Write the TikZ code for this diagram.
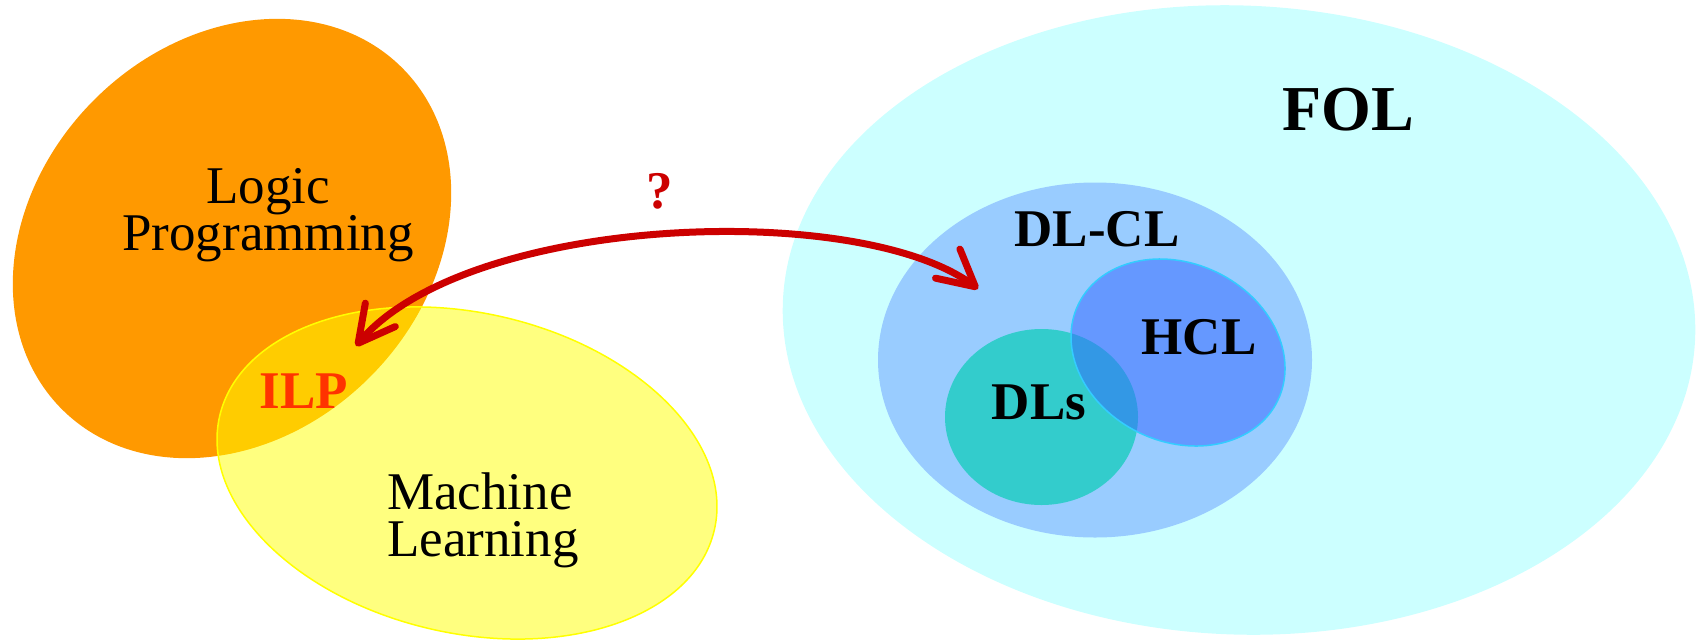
\documentclass[tikz,border=0pt]{standalone}
\usepackage{fontspec}
\setmainfont{Liberation Serif}
\usetikzlibrary{arrows.meta,bending}
\definecolor{lporange}{HTML}{FF9900}
\definecolor{mlyellow}{HTML}{FFFF00}
\definecolor{folcyan}{HTML}{CCFFFF}
\definecolor{dlclblue}{HTML}{99CCFF}
\definecolor{dlsteal}{HTML}{33CCCC}
\definecolor{hclblue}{HTML}{3366FF}
\definecolor{hclborder}{HTML}{33CCFF}
\definecolor{arrowred}{HTML}{CC0000}
\definecolor{ilpred}{HTML}{FF3300}
\tikzset{
  lbl/.style={inner sep=0pt, anchor=base, font=\fontsize{53}{47}\selectfont},
  blbl/.style={lbl, font=\fontsize{53}{47}\selectfont\bfseries},
  barb/.tip={Straight Barb[length=36pt,width=38pt,round,flex]},
  qarrow/.style={draw=arrowred, line width=7pt, line cap=round, barb-barb}
}
\begin{document}
\begin{tikzpicture}[x=1pt,y=1pt]
\useasboundingbox (0,0) rectangle (1704,-641);
% left side
\fill[lporange, rotate around={45.3:(232,-238.5)}] (232,-238.5) ellipse [x radius=241, y radius=195.5];
\draw[mlyellow, line width=1.5pt, fill=mlyellow, fill opacity=0.5, rotate around={-12.9:(467,-473)}] (467,-473) ellipse [x radius=253.8, y radius=160.1];
% right side
\fill[folcyan, rotate around={-2.3:(1239,-320)}] (1239,-320) ellipse [x radius=456.5, y radius=314.5];
\fill[dlclblue] (1095,-360) ellipse [x radius=217, y radius=177.5];
\fill[dlsteal] (1041.5,-417) ellipse [x radius=96.5, y radius=88];
\draw[hclborder, line width=1.5pt, fill=hclblue, fill opacity=0.5, rotate around={-25.6:(1178,-352.5)}] (1178,-352.5) ellipse [x radius=110.7, y radius=89.1];
% labels (base anchor = baseline of last line)
\node[lbl, align=center] (lp) at (268,-250) {Logic\\Programming};
\node[lbl, align=left, anchor=base west] (ml) at (387,-556) {Machine\\Learning};
\node[blbl, text=ilpred] (ilp) at (304,-408) {ILP};
\node[blbl, text=arrowred] (q) at (660,-208.5) {?};
\node[lbl, font=\fontsize{64}{64}\selectfont\bfseries] (fol) at (1348,-130) {FOL};
\node[blbl] (dlcl) at (1097,-246.5) {DL-CL};
\node[blbl] (hcl) at (1199,-354.5) {HCL};
\node[blbl] (dls) at (1039,-419) {DLs};
% arrow
\coordinate (arrL) at (356,-346);
\coordinate (arrR) at (978,-289);
\draw[qarrow] (arrL) .. controls +(52:170) and +(140:140) .. (arrR);
\end{tikzpicture}
\end{document}
